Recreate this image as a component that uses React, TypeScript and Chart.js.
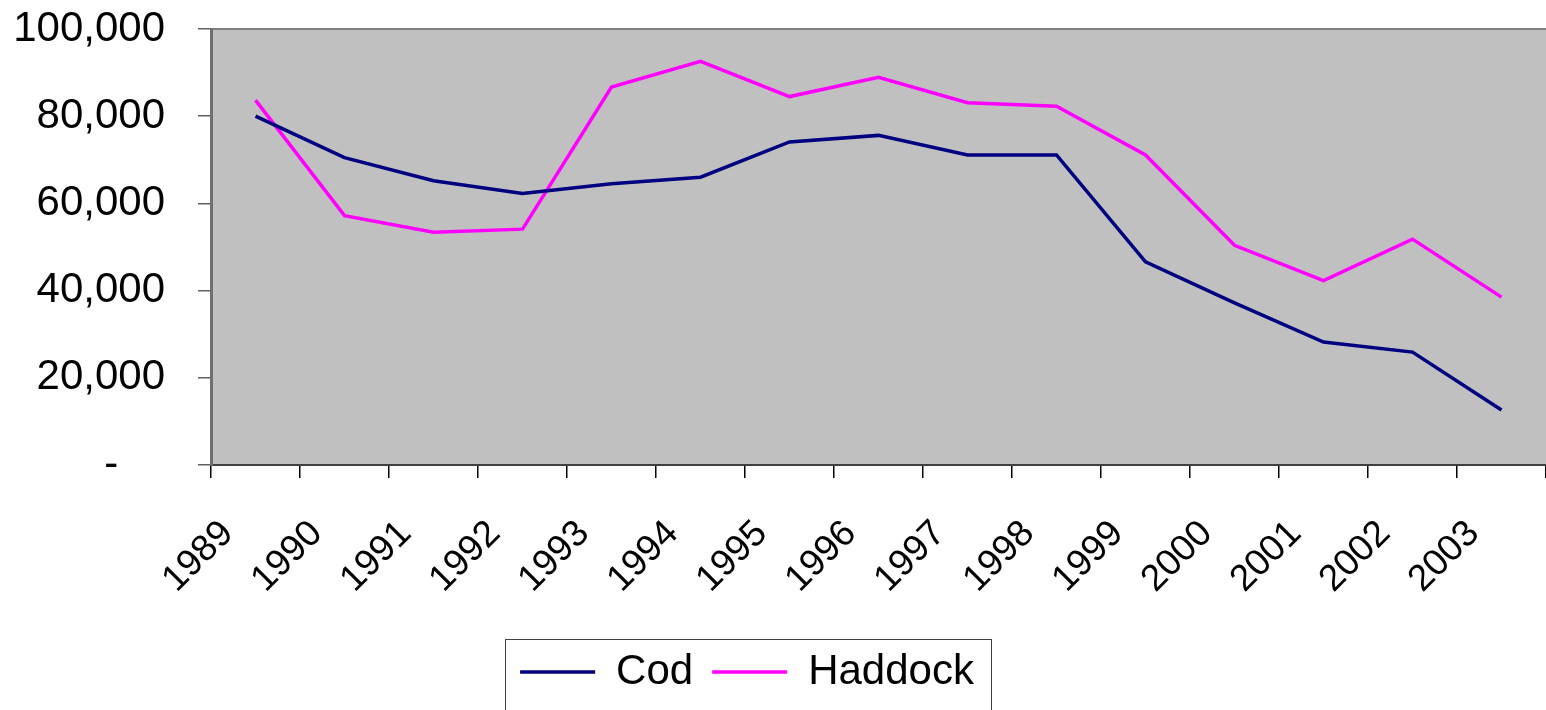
import React, { useEffect, useRef } from "react";
import { Chart, registerables } from "chart.js";

Chart.register(...registerables);

const years = ["1989", "1990", "1991", "1992", "1993", "1994", "1995", "1996", "1997", "1998", "1999", "2000", "2001", "2002", "2003"];
const cod = [80000, 70500, 65200, 62300, 64500, 66000, 74100, 75600, 71100, 71100, 46600, 37200, 28200, 25900, 12600];
const haddock = [83700, 57200, 53400, 54100, 86700, 92600, 84500, 88900, 83100, 82300, 71100, 50400, 42300, 51800, 38500];
const yTicks = [0, 20000, 40000, 60000, 80000, 100000];

const LEGEND_SHIFT = -28;

const plotPlugin = {
  id: "plotDecor",
  beforeDraw(chart: any) {
    const { ctx, chartArea: a } = chart;
    ctx.save();
    ctx.fillStyle = "#C0C0C0";
    ctx.fillRect(a.left, a.top, a.right - a.left, a.bottom - a.top);
    ctx.strokeStyle = "#808080";
    ctx.lineWidth = 2;
    ctx.beginPath();
    ctx.moveTo(a.left, a.top);
    ctx.lineTo(a.right, a.top);
    ctx.stroke();
    ctx.restore();
  },
  afterLayout(chart: any) {
    const lg = chart.legend;
    if (lg) {
      lg.left += LEGEND_SHIFT;
      lg.right += LEGEND_SHIFT;
    }
  },
  afterDraw(chart: any) {
    const lg = chart.legend;
    if (!lg || !lg.legendHitBoxes || !lg.legendHitBoxes.length) return;
    const hb = lg.legendHitBoxes;
    const first = hb[0];
    const last = hb[hb.length - 1];
    const x0 = Math.round(first.left - 15) + 0.5;
    const x1 = Math.round(last.left + last.width + 17) + 0.5;
    const y0 = Math.round(first.top - 12) + 0.5;
    const { ctx } = chart;
    ctx.save();
    ctx.strokeStyle = "#404040";
    ctx.lineWidth = 1;
    ctx.strokeRect(x0, y0, x1 - x0, 800);
    ctx.restore();
  },
};

export default function App() {
  const ref = useRef<HTMLCanvasElement | null>(null);
  useEffect(() => {
    document.body.style.margin = "0";
    const canvas = ref.current;
    if (!canvas) return;
    const chart = new Chart(canvas, {
      type: "line",
      data: {
        labels: years,
        datasets: [
          {
            label: "Cod",
            data: cod,
            borderColor: "#000080",
            backgroundColor: "#000080",
            borderWidth: 3.5,
            pointRadius: 0,
            tension: 0,
            fill: false,
          },
          {
            label: "Haddock",
            data: haddock,
            borderColor: "#FF00FF",
            backgroundColor: "#FF00FF",
            borderWidth: 3.5,
            pointRadius: 0,
            tension: 0,
            fill: false,
          },
        ],
      },
      options: {
        animation: false,
        responsive: false,
        events: [],
        layout: { padding: { top: 29, left: 0, right: -4, bottom: 7 } },
        font: { family: "'Liberation Sans', Arial, sans-serif" } as any,
        color: "#000",
        scales: {
          x: {
            type: "category",
            offset: true,
            grid: {
              offset: true,
              drawOnChartArea: false,
              drawTicks: true,
              tickLength: 13,
              tickColor: "#000",
              lineWidth: 1.5,
            },
            border: { display: true, color: "#404040", width: 2 },
            ticks: {
              autoSkip: false,
              minRotation: 45,
              maxRotation: 45,
              padding: 34,
              labelOffset: -28,
              color: "#000",
              font: { family: "'Liberation Sans', Arial, sans-serif", size: 37 },
            },
            afterFit: (s: any) => {
              s.height = 167;
              s.paddingLeft = 0;
              s.paddingRight = 0;
              s.paddingTop = 0;
              s.paddingBottom = 0;
            },
          },
          y: {
            min: 0,
            max: 100000,
            afterBuildTicks: (s: any) => {
              s.ticks = yTicks.map((v) => ({ value: v }));
            },
            grid: {
              drawOnChartArea: false,
              drawTicks: true,
              tickLength: 13,
              tickColor: "#606060",
              lineWidth: 1.5,
            },
            border: { display: true, color: "#707070", width: 3 },
            ticks: {
              padding: 33,
              color: "#000",
              font: { family: "'Liberation Sans', Arial, sans-serif", size: 42 },
              callback: (v: any) => (Number(v) === 0 ? "-    " : Number(v).toLocaleString("en-US")),
            },
            afterFit: (s: any) => {
              s.width = 211;
              s.paddingTop = 0;
              s.paddingBottom = 0;
              s.paddingLeft = 0;
              s.paddingRight = 0;
            },
          },
        },
        plugins: {
          tooltip: { enabled: false },
          legend: {
            display: true,
            position: "bottom",
            align: "center",
            labels: {
              usePointStyle: true,
              pointStyle: "line",
              pointStyleWidth: 75,
              padding: 19,
              color: "#000",
              font: { family: "'Liberation Sans', Arial, sans-serif", size: 42 },
            },
          },
        },
      },
      plugins: [plotPlugin],
    });
    return () => chart.destroy();
  }, []);
  return (
    <div style={{ position: "fixed", left: 0, top: 0, width: 1546, height: 710, background: "#fff", overflow: "hidden" }}>
      <canvas ref={ref} width={1546} height={710} style={{ display: "block" }} />
    </div>
  );
}
